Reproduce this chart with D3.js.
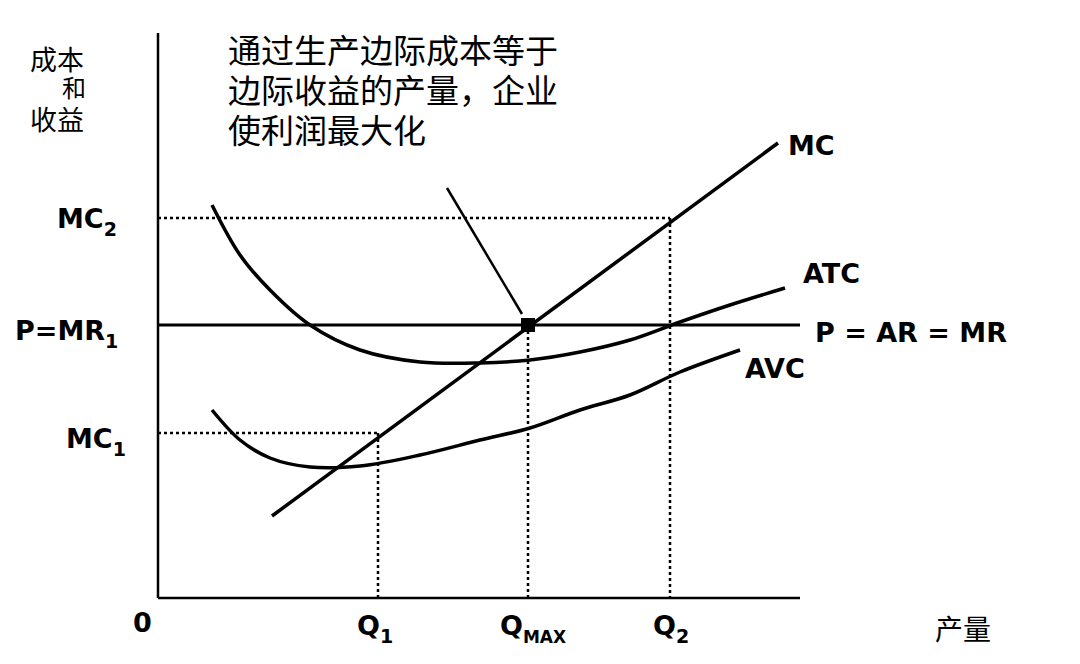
<!DOCTYPE html><html><head><meta charset="utf-8">
<script src="https://cdn.jsdelivr.net/npm/d3@7"></script>
<style>body{margin:0;background:#fff}</style></head><body>
<svg id="c" width="1080" height="664"></svg>
<script>
const mcLine=[[114,82],[620,455]];
const priceLevel=273, mc2Level=380, mc1Level=165;
const q1=220, qMax=370, q2=512;
const atc=[[54,393],[82,343],[112,308],[152,273],[202,248],[262,236],[322,235],[372,238],[422,246],[472,258],[522,276],[572,293],[627,310]];
const avc=[[54,188],[82,158],[112,140],[152,131],[202,132],[262,143],[322,158],[372,170],[422,188],[472,203],[522,226],[582,248]];
const pointer=[[289,410],[364,284]];
const annot=["通过生产边际成本等于","边际收益的产量，企业","使利润最大化"];
const svg=d3.select("#c");
const x=d3.scaleLinear().domain([0,650]).range([158,808]);
const y=d3.scaleLinear().domain([0,550]).range([598,48]);
const ln=d3.line().x(d=>x(d[0])).y(d=>y(d[1]));
const cv=d3.line().x(d=>x(d[0])).y(d=>y(d[1])).curve(d3.curveCatmullRom);
const g=svg.append("g").attr("fill","none").attr("stroke","#000");
g.append("path").attr("d",ln([[0,0],[0,565]])).attr("stroke-width",2.5);
g.append("path").attr("d",ln([[0,0],[642,0]])).attr("stroke-width",2.5);
const dot=(p)=>g.append("path").attr("d",ln(p)).attr("stroke-width",2.5).attr("stroke-dasharray","3,3");
dot([[0,mc2Level],[q2,mc2Level]]);dot([[q2,mc2Level],[q2,0]]);
dot([[0,mc1Level],[q1,mc1Level]]);dot([[q1,mc1Level],[q1,0]]);
dot([[qMax,priceLevel],[qMax,0]]);
g.append("path").attr("d",ln([[0,priceLevel],[642,priceLevel]])).attr("stroke-width",3);
g.append("path").attr("d",ln(mcLine)).attr("stroke-width",3.5);
g.append("path").attr("d",cv(atc)).attr("stroke-width",3.5);
g.append("path").attr("d",cv(avc)).attr("stroke-width",3.5);
g.append("path").attr("d",ln(pointer)).attr("stroke-width",2.5);
svg.append("rect").attr("x",x(qMax)-7).attr("y",y(priceLevel)-7).attr("width",14).attr("height",14);
const T=(t,px,py,o={})=>{const e=svg.append("text").attr("x",px).attr("y",py).attr("font-family",o.f||"DejaVu Sans, sans-serif").attr("font-size",o.s||27).attr("font-weight",o.w||"bold").attr("text-anchor",o.a||"start");e.html(t);return e;};
T("MC",788,155);T("ATC",803,283);T("P = AR = MR",815,342);T("AVC",745,378);
T("MC<tspan font-size='19' dy='8'>2</tspan>",57,228);
T("P=MR<tspan font-size='19' dy='8'>1</tspan>",15,340);
T("MC<tspan font-size='19' dy='8'>1</tspan>",66,448);
T("0",133,632);
T("Q<tspan font-size='19' dy='8'>1</tspan>",357,635);
T("Q<tspan font-size='17' dy='8'>MAX</tspan>",500,635);
T("Q<tspan font-size='19' dy='8'>2</tspan>",653,635);
const cf="Noto Sans CJK SC, sans-serif";
T("产量",935,640,{f:cf,w:"normal",s:28});
T("成本",30,70,{f:cf,w:"normal",s:27});T("和",62,97,{f:cf,w:"normal",s:24});T("收益",30,130,{f:cf,w:"normal",s:27});
annot.forEach((t,i)=>T(t,228,63+i*40,{f:cf,w:"normal",s:33}));
</script></body></html>
